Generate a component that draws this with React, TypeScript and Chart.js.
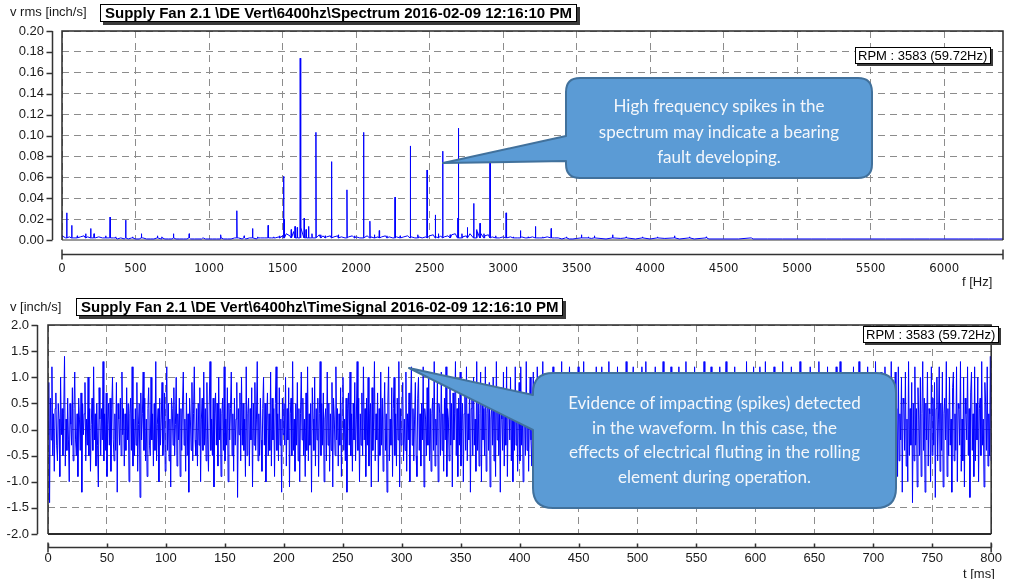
import React, { useEffect, useRef } from "react";
import { Chart, registerables } from "chart.js";

Chart.register(...registerables);

// ---------------- Spectrum (top panel) ----------------
const specXTicks = [0, 500, 1000, 1500, 2000, 2500, 3000, 3500, 4000, 4500, 5000, 5500, 6000];
const specYTicks = [0, 0.02, 0.04, 0.06, 0.08, 0.1, 0.12, 0.14, 0.16, 0.18, 0.2];

// discrete spectral lines [Hz] and their amplitudes [inch/s rms]
const specSpikeHz = [
  32, 66, 104, 161, 195, 218, 297, 327, 365, 433, 480, 540, 649, 680, 758, 865, 960, 1080, 1189, 1239,
  1296, 1330, 1402, 1440, 1480, 1507, 1512, 1559, 1585, 1600, 1620, 1647, 1660, 1677, 1700, 1727, 1760,
  1790, 1833, 1880, 1938, 1990, 2051, 2094, 2125, 2158, 2210, 2265, 2300, 2369, 2420, 2483, 2539, 2560,
  2589, 2640, 2691, 2696, 2720, 2757, 2800, 2820, 2843, 2870, 2911, 2950, 3020, 3070, 3118, 3170, 3220,
  3270, 3327, 3431, 3533, 3580, 3621, 3745, 3837, 3948, 4050, 4166, 4268, 4382, 4688,
];
const specSpikeAmp = [
  0.026, 0.014, 0.004, 0.006, 0.011, 0.006, 0.004, 0.022, 0.003, 0.019, 0.003, 0.006, 0.004, 0.003, 0.006,
  0.006, 0.002, 0.005, 0.028, 0.004, 0.011, 0.003, 0.014, 0.003, 0.004, 0.061, 0.02, 0.01, 0.013, 0.012,
  0.174, 0.021, 0.01, 0.013, 0.006, 0.103, 0.005, 0.004, 0.075, 0.005, 0.048, 0.004, 0.103, 0.018, 0.005,
  0.009, 0.004, 0.041, 0.004, 0.09, 0.005, 0.067, 0.024, 0.006, 0.085, 0.005, 0.021, 0.107, 0.006, 0.012,
  0.035, 0.01, 0.016, 0.006, 0.076, 0.004, 0.026, 0.003, 0.009, 0.003, 0.013, 0.003, 0.011, 0.003, 0.005,
  0.003, 0.004, 0.005, 0.003, 0.003, 0.003, 0.004, 0.003, 0.003, 0.002,
];
const SPIKE_BASE = 0.002;

// noise floor, 25 Hz bins from 0 Hz
const specFloorLow = [
  0.004, 0.002, 0.003, 0.002, 0.002, 0.003, 0.004, 0.003, 0.002, 0.002,
  0.003, 0.002, 0.001, 0.002, 0.002, 0.001, 0.002, 0.001, 0.001, 0.002,
  0.001, 0.001, 0.002, 0.001, 0.001, 0.001, 0.002, 0.001, 0.001, 0.001,
  0.001, 0.001, 0.001, 0.001, 0.001, 0.001, 0.001, 0.001, 0.001, 0.001,
  0.001, 0.001, 0.001, 0.001, 0.001, 0.001, 0.001, 0.002, 0.002, 0.001,
  0.001, 0.002, 0.002, 0.001, 0.002, 0.002, 0.003, 0.002, 0.002, 0.003,
];
// noise floor, 25 Hz bins from 1500 Hz
const specFloorMid = [
  0.004, 0.006, 0.004, 0.008, 0.01, 0.012, 0.009, 0.006, 0.005, 0.004,
  0.005, 0.004, 0.003, 0.004, 0.003, 0.004, 0.003, 0.002, 0.003, 0.004,
  0.003, 0.002, 0.003, 0.004, 0.003, 0.002, 0.003, 0.003, 0.004, 0.003,
  0.002, 0.003, 0.002, 0.003, 0.004, 0.003, 0.002, 0.003, 0.002, 0.003,
  0.004, 0.005, 0.003, 0.004, 0.003, 0.004, 0.005, 0.006, 0.004, 0.003,
  0.004, 0.006, 0.005, 0.008, 0.006, 0.004, 0.005, 0.003, 0.004, 0.002,
  0.003, 0.002, 0.003, 0.002, 0.002, 0.003, 0.002, 0.002, 0.003, 0.002,
  0.002, 0.002, 0.003, 0.002, 0.002, 0.002, 0.001, 0.002, 0.001, 0.001,
];
// noise floor, 100 Hz bins from 3500 Hz
const specFloorHigh = [
  0.0015, 0.0015, 0.001, 0.0015, 0.001, 0.001, 0.0015, 0.001, 0.001, 0.001,
  0.001, 0.001, 0.001, 0.001, 0.001, 0.001, 0.001, 0.001, 0.001, 0.001,
  0.001, 0.001, 0.001, 0.001, 0.001, 0.001, 0.001, 0.001, 0.001, 0.001,
];

// ---------------- Time signal (bottom panel) ----------------
const waveXTicks = [0, 50, 100, 150, 200, 250, 300, 350, 400, 450, 500, 550, 600, 650, 700, 750, 800];
const waveYTicks = [-2, -1.5, -1, -0.5, 0, 0.5, 1, 1.5, 2];
const WAVE_DURATION_MS = 800;

const wave0 = [
  -0.1, 0.9, -1.4, 0.6, -0.2, 1.2, -0.5, 0.3, -0.8, 0.4, 0.7, -0.3, -0.6, 0.5, 0.2, -0.9, 1.0, -0.1, 0.4, -0.5,
  0.3, 1.4, -0.7, 0.2, -0.4, 0.6, -0.2, -1.0, 0.5, 0.1, -0.3, 0.8, -0.6, 0.4, 1.1, -0.2, -0.5, 0.3, -0.9, 0.6,
  0.2, -0.4, 0.7, -1.2, 0.5, -0.1, 0.3, 0.9, -0.6, 0.2, -0.3, 1.0, -0.5, 0.4, -0.8, 0.1, 0.6, -0.4, 1.2, -0.2,
  0.3, -0.7, 0.5, -0.3, -1.1, 0.8, 0.2, -0.5, 0.4, -0.2, 1.3, -0.6, 0.3, -0.4, 0.7, -0.9, 0.1, 0.5, -0.3, 0.6,
  -0.8, 0.4, 1.0, -0.2, -0.6, 0.3, -0.4, 0.9, -1.2, 0.5, 0.2, -0.3, 0.6, -0.5, 1.1, -0.1, 0.4, -0.7, 0.3, -0.4,
];
const wave1 = [
  0.8, -0.2, 0.5, -1.0, 0.3, 0.6, -0.4, 1.2, -0.7, 0.2, -0.5, 0.4, -0.3, 0.9, -0.8, 0.1, 0.5, -1.3, 0.7, -0.2,
  0.3, 1.1, -0.4, 0.6, -0.6, 0.2, -0.9, 0.4, 0.8, -0.3, -0.5, 1.0, -0.2, 0.3, -0.7, 0.5, -0.4, 1.3, -0.6, 0.1,
  0.4, -1.0, 0.6, -0.3, 0.2, 0.9, -0.5, -0.2, 0.7, -0.8, 0.3, 1.2, -0.4, 0.5, -0.6, 0.2, -1.1, 0.6, 0.4, -0.3,
  0.8, -0.5, 0.1, 1.0, -0.7, 0.3, -0.2, 0.6, -0.9, 0.4, -0.4, 0.5, 1.1, -0.3, 0.2, -0.8, 0.7, -0.5, 0.3, -1.2,
  0.6, 0.2, -0.4, 0.9, -0.6, 0.3, 1.2, -0.2, -0.5, 0.4, -0.7, 0.5, -0.3, 0.8, -1.0, 0.2, 0.6, -0.4, 1.1, -0.3,
];
const wave2 = [
  0.4, -0.6, 0.9, -0.2, -0.8, 0.5, 1.3, -0.4, 0.2, -0.5, 0.6, -1.1, 0.3, 0.7, -0.3, 0.5, -0.7, 1.0, -0.2, 0.4,
  -0.9, 0.3, 0.6, -0.4, 1.2, -0.6, 0.2, -0.3, 0.8, -1.0, 0.5, -0.2, 0.4, 1.1, -0.5, 0.3, -0.8, 0.6, -0.3, 0.2,
  0.9, -1.3, 0.4, -0.1, 0.7, -0.6, 1.0, -0.3, 0.5, -0.4, 0.2, -0.9, 1.2, -0.5, 0.3, 0.6, -0.7, 0.4, -0.2, 0.8,
  -1.1, 0.5, -0.3, 0.9, -0.4, 0.2, 1.3, -0.6, 0.3, -0.5, 0.6, -0.2, -0.8, 0.4, 1.0, -0.3, 0.5, -1.0, 0.2, 0.7,
  -0.5, 0.3, -0.4, 1.1, -0.7, 0.6, -0.2, 0.4, -0.9, 0.5, 1.2, -0.4, 0.3, -0.6, 0.8, -0.3, 0.2, -1.2, 0.6, -0.1,
];
const wave3 = [
  0.5, -0.3, 1.0, -0.7, 0.4, -0.2, 0.8, -1.1, 0.3, 0.6, -0.5, 1.3, -0.4, 0.2, -0.8, 0.5, -0.3, 0.9, -0.6, 0.4,
  -1.0, 0.3, 1.1, -0.2, 0.6, -0.5, 0.2, -0.9, 0.7, -0.4, 1.2, -0.6, 0.3, -0.3, 0.5, -1.2, 0.8, 0.2, -0.4, 1.0,
  -0.7, 0.4, -0.2, 0.6, -0.9, 0.3, 1.3, -0.5, 0.5, -0.3, 0.7, -1.0, 0.2, 0.4, -0.6, 1.1, -0.3, 0.5, -0.8, 0.3,
  -0.4, 0.9, -1.1, 0.6, 0.2, -0.5, 1.2, -0.2, 0.4, -0.7, 0.3, -0.3, 0.8, -0.9, 0.5, 1.0, -0.4, 0.2, -0.6, 0.6,
  -1.2, 0.4, 0.7, -0.3, 1.1, -0.5, 0.3, -0.8, 0.5, -0.2, 0.9, -0.6, 0.2, 1.3, -0.4, 0.6, -1.0, 0.3, -0.3, 0.7,
];
const wave4 = [
  -0.5, 1.2, -0.2, 0.4, -0.9, 0.6, -0.3, 1.0, -0.7, 0.3, 0.5, -1.1, 0.8, -0.4, 0.2, 1.3, -0.6, 0.3, -0.2, 0.7,
  -1.0, 0.4, -0.5, 1.1, -0.3, 0.6, -0.8, 0.2, 0.9, -0.4, 0.3, -1.2, 0.5, 1.2, -0.6, 0.2, -0.3, 0.8, -0.9, 0.4,
  1.0, -0.5, 0.3, -0.7, 0.6, -0.2, 1.3, -1.1, 0.4, -0.3, 0.5, 0.9, -0.6, 0.2, -0.4, 1.1, -0.8, 0.3, -0.2, 0.7,
  -1.0, 0.5, 1.2, -0.3, 0.4, -0.6, 0.2, 0.9, -0.5, -0.9, 0.6, 1.0, -0.4, 0.3, -0.7, 0.5, -0.2, 1.2, -1.1, 0.4,
  0.2, -0.5, 0.8, -0.3, 1.1, -0.6, 0.4, -0.8, 0.3, 0.6, -0.4, 1.3, -0.7, 0.2, -0.3, 0.9, -1.0, 0.5, 0.3, -0.5,
];
const wave5 = [
  1.1, -0.4, 0.3, -0.8, 0.6, -0.2, 1.2, -0.9, 0.4, 0.2, -0.6, 1.0, -0.3, 0.5, -1.1, 0.7, -0.2, 0.3, 1.3, -0.5,
  0.4, -0.9, 0.6, -0.3, 1.1, -0.7, 0.2, 0.5, -1.0, 0.3, 0.8, -0.4, 1.2, -0.6, 0.3, -0.2, 0.9, -1.2, 0.4, 0.6,
  -0.5, 1.0, -0.3, 0.2, -0.8, 1.3, -0.4, 0.5, -0.7, 0.3, 1.1, -1.0, 0.6, -0.2, 0.4, -0.5, 1.2, -0.8, 0.3, 0.7,
  -0.4, 0.9, -1.1, 0.2, 0.5, -0.3, 1.0, -0.6, 0.4, -0.9, 1.3, -0.2, 0.6, -0.5, 0.3, -1.2, 0.8, 0.2, -0.4, 1.1,
  -0.7, 0.5, -0.3, 1.2, -0.9, 0.4, 0.6, -0.2, 1.0, -0.6, 0.3, -1.0, 0.7, -0.4, 1.2, -0.3, 0.5, -0.8, 0.2, 0.9,
];
const wave6 = [
  -0.6, 1.2, -0.3, 0.4, -1.0, 0.7, 0.2, -0.5, 1.3, -0.4, 0.6, -0.8, 0.3, 1.0, -0.2, -0.7, 0.5, 1.1, -1.1, 0.3,
  0.4, -0.6, 1.2, -0.3, 0.8, -0.9, 0.2, 0.5, -0.4, 1.3, -0.7, 0.4, -0.2, 0.9, -1.2, 0.6, 0.3, -0.5, 1.0, -0.3,
  0.5, -0.8, 1.2, -0.6, 0.2, 0.7, -1.0, 0.4, -0.3, 1.1, -0.5, 0.6, -0.2, 1.3, -0.9, 0.3, 0.5, -0.6, 1.0, -0.4,
  0.2, -1.1, 0.8, 1.2, -0.3, 0.4, -0.7, 0.6, -0.2, 1.1, -1.0, 0.3, 0.5, -0.4, 1.2, -0.6, 0.7, -0.8, 0.2, 0.9,
  -0.3, 1.3, -0.5, 0.4, -1.2, 0.6, 0.3, -0.2, 1.0, -0.7, 0.5, -0.4, 1.1, -0.9, 0.2, 0.6, -0.3, 1.2, -0.6, 0.4,
];
const wave7 = [
  -1.0, 0.8, 0.3, -0.4, 1.2, -0.6, 0.5, -0.2, 1.0, -0.9, 0.4, 0.6, -0.3, 1.3, -0.7, 0.2, -0.5, 1.1, -1.2, 0.5,
  0.3, -0.4, 0.9, -0.2, 1.2, -0.8, 0.6, -0.3, 0.4, -1.0, 1.1, -0.5, 0.2, 0.7, -0.6, 1.3, -0.3, 0.4, -0.9, 0.5,
  1.0, -0.2, -0.7, 0.6, 1.2, -1.1, 0.3, -0.4, 0.8, -0.5, 0.2, 1.1, -0.6, 0.4, -0.3, 1.2, -0.9, 0.5, 0.3, -0.4,
  1.3, -0.7, 0.2, -0.5, 0.9, -1.2, 0.6, 0.4, -0.2, 1.0, -0.8, 0.3, 1.2, -0.4, 0.5, -0.6, 0.2, 1.1, -1.0, 0.7,
  -0.3, 0.4, 1.3, -0.5, 0.3, -0.9, 0.6, -0.2, 1.0, -0.6, 0.4, -1.1, 1.2, -0.3, 0.5, -0.4, 0.8, -0.7, 0.2, 1.1,
];
const wave8 = [
  -0.5, 0.4, 1.2, -0.8, 0.3, -0.3, 1.0, -1.1, 0.6, 0.2, -0.4, 1.3, -0.6, 0.5, -0.2, 0.9, -1.0, 0.3, 1.1, -0.5,
  0.4, -0.7, 1.2, -0.3, 0.6, -0.9, 0.2, 1.0, -0.4, 0.5, -1.2, 0.7, 0.3, -0.2, 1.3, -0.6, 0.4, -0.8, 1.1, -0.3,
  0.5, -1.0, 0.6, 1.2, -0.4, 0.2, -0.5, 0.9, -0.9, 0.3, 1.1, -0.6, 0.4, -0.3, 1.2, -1.1, 0.5, 0.2, -0.7, 1.0,
  -0.4, 0.6, 1.3, -0.5, 0.3, -0.8, 0.7, -0.2, 1.1, -1.0, 0.4, 0.5, -0.3, 1.2, -0.6, 0.2, -0.9, 0.8, 1.0, -0.4,
  0.3, -1.2, 0.6, -0.2, 1.1, -0.5, 0.4, -0.7, 1.3, -0.3, 0.5, -0.9, 0.2, 1.0, -0.6, 0.7, -0.4, 1.2, -1.0, 0.3,
];
const wave9 = [
  0.6, -0.4, 1.1, -0.7, 0.3, 1.2, -0.5, 0.2, -1.0, 0.5, 0.8, -0.3, 1.3, -0.6, 0.4, -0.9, 0.6, -0.2, 1.0, -1.1,
  0.3, 0.5, -0.4, 1.2, -0.8, 0.2, -0.3, 0.9, -1.2, 0.6, 1.1, -0.5, 0.4, -0.2, 1.3, -0.7, 0.3, -1.0, 0.7, 0.5,
  -0.6, 1.0, -0.3, 0.4, -0.9, 1.2, -0.4, 0.2, -0.5, 0.8, -1.1, 0.6, 1.1, -0.2, 0.3, -0.7, 1.3, -0.6, 0.5, -0.3,
  0.4, -1.2, 0.9, 0.2, -0.4, 1.0, -0.8, 0.6, -0.2, 1.2, -0.5, 0.3, -1.0, 0.7, 0.5, -0.3, 1.1, -0.9, 0.4, -0.6,
  1.3, -0.2, 0.6, -1.1, 0.3, 0.8, -0.5, 1.0, -0.4, 0.2, -0.7, 1.2, -0.3, 0.5, -1.3, 0.6, 0.4, -0.2, 1.1, -0.8,
];
const wave10 = [
  0.3, -0.5, 1.2, -0.9, 0.6, 0.2, -0.4, 1.3, -1.1, 0.5, -0.3, 0.8, -0.6, 1.0, -0.2, 0.4, -1.2, 0.7, 0.3, -0.5,
  1.1, -0.8, 0.5, -0.3, 1.2, -0.6, 0.2, 0.6, -1.0, 0.4, -0.2, 1.3, -0.7, 0.5, -0.4, 0.9, -1.1, 0.3, 1.0, -0.5,
  0.6, -0.3, 1.2, -0.9, 0.2, 0.4, -0.6, 1.1, -1.2, 0.7, 0.3, -0.4, 1.3, -0.5, 0.6, -1.0, 0.2, 0.8, -0.3, 1.1,
  -0.7, 0.4, -1.3, 0.5, 1.2, -0.2, 0.3, -0.8, 1.0, -0.6, 0.5, -0.4, 1.3, -1.1, 0.2, 0.7, -0.5, 1.1, -0.3, 0.4,
  -0.9, 1.2, -0.6, 0.3, -0.2, 1.0, -1.2, 0.6, 0.5, -0.4, 1.1, -0.7, 0.2, -1.0, 1.3, -0.5, 0.4, -0.3, 0.9, -1.4,
];
const wave11 = [
  0.5, -0.6, 1.2, -0.3, 0.4, -1.1, 0.8, 0.2, -0.5, 1.0, -0.9, 0.3, 1.3, -0.4, 0.6, -1.2, 0.5, -0.2, 1.1, -0.7,
  0.4, 0.3, -1.0, 1.2, -0.5, 0.6, -0.3, 0.9, -1.3, 0.4, 1.0, -0.6, 0.2, 1.2, -0.8, 0.5, -0.4, 1.1, -1.1, 0.3,
  0.6, -0.2, 1.3, -0.9, 0.4, -0.5, 1.0, -0.3, 0.2, -1.2, 0.8, 1.1, -0.6, 0.3, -0.4, 1.2, -1.0, 0.5, 0.4, -0.3,
  1.3, -0.8, 0.2, -0.6, 1.0, -1.1, 0.6, 0.3, -0.2, 1.2, -0.5, 0.4, -1.3, 0.7, 1.1, -0.4, 0.3, -0.9, 1.2, -0.6,
  0.5, -0.2, 1.0, -1.0, 0.4, 0.6, -0.5, 1.3, -0.3, 0.2, -1.1, 0.9, 0.5, -0.4, 1.2, -0.7, 0.3, -0.5, 1.4, -0.6,
];

// ---------------- helpers ----------------
const SANS = "'Liberation Sans', Arial, sans-serif";
const NARROW = "'Liberation Sans Narrow', 'DejaVu Sans Condensed', 'Liberation Sans', sans-serif";
const CALLOUT_FONT = "Lato, 'Open Sans', sans-serif";

function buildSpectrum() {
  const pts: { x: number; y: number }[] = [];
  specFloorLow.forEach((v, i) => pts.push({ x: i * 25, y: v }));
  specFloorMid.forEach((v, i) => pts.push({ x: 1500 + i * 25, y: v }));
  specFloorHigh.forEach((v, i) => pts.push({ x: 3500 + i * 100, y: v }));
  const filtered = pts.filter((p) => !specSpikeHz.some((f) => Math.abs(f - p.x) < 5));
  const spikes: { x: number; y: number }[] = [];
  specSpikeHz.forEach((f, i) => {
    spikes.push({ x: f - 2, y: SPIKE_BASE }, { x: f, y: specSpikeAmp[i] }, { x: f + 2, y: SPIKE_BASE });
  });
  return filtered.concat(spikes).sort((a, b) => a.x - b.x);
}

function buildWave() {
  const all = [
    ...wave0, ...wave1, ...wave2, ...wave3, ...wave4, ...wave5,
    ...wave6, ...wave7, ...wave8, ...wave9, ...wave10, ...wave11,
  ];
  const dt = WAVE_DURATION_MS / (all.length - 1);
  return all.map((v, i) => ({ x: i * dt, y: v }));
}

function framePlugin(cfg: { yOff: number; xOff: number; bottomColor: string; innerTicks: boolean }) {
  return {
    id: "frameAxes",
    beforeDatasetsDraw(chart: any) {
      const { ctx, chartArea: a } = chart;
      ctx.save();
      ctx.strokeStyle = cfg.bottomColor;
      ctx.lineWidth = 2;
      ctx.beginPath();
      ctx.moveTo(a.left, a.bottom);
      ctx.lineTo(a.right, a.bottom);
      ctx.stroke();
      ctx.restore();
    },
    afterDatasetsDraw(chart: any) {
      const { ctx, chartArea: a, scales } = chart;
      const x = scales.x;
      const y = scales.y;
      ctx.save();
      ctx.strokeStyle = "#2b2b2b";
      ctx.lineWidth = 1.5;
      ctx.beginPath();
      ctx.moveTo(a.left, a.bottom);
      ctx.lineTo(a.left, a.top);
      ctx.lineTo(a.right, a.top);
      ctx.lineTo(a.right, a.bottom);
      ctx.stroke();
      ctx.strokeStyle = "#333";
      ctx.lineWidth = 1.5;
      const ax = Math.round(a.left - cfg.yOff) + 0.5;
      ctx.beginPath();
      ctx.moveTo(ax, y.getPixelForValue(y.max));
      ctx.lineTo(ax, y.getPixelForValue(y.min));
      y.ticks.forEach((t: any) => {
        const py = Math.round(y.getPixelForValue(t.value)) + 0.5;
        ctx.moveTo(ax - 6, py);
        ctx.lineTo(ax, py);
      });
      ctx.stroke();
      const ay = Math.round(a.bottom + cfg.xOff) + 0.5;
      const x0 = x.getPixelForValue(x.min);
      const x1 = x.getPixelForValue(x.max);
      ctx.beginPath();
      ctx.moveTo(x0, ay);
      ctx.lineTo(x1, ay);
      ctx.moveTo(x0, ay - 5);
      ctx.lineTo(x0, ay + 5);
      ctx.moveTo(x1, ay - 5);
      ctx.lineTo(x1, ay + 5);
      if (cfg.innerTicks) {
        x.ticks.forEach((t: any) => {
          const px = Math.round(x.getPixelForValue(t.value)) + 0.5;
          ctx.moveTo(px, ay - 4);
          ctx.lineTo(px, ay);
        });
      }
      ctx.stroke();
      ctx.restore();
    },
  };
}

function gridOpts() {
  return { color: "#8c8c8c", lineWidth: 1, drawTicks: false };
}

export default function App() {
  const specRef = useRef<HTMLCanvasElement>(null);
  const waveRef = useRef<HTMLCanvasElement>(null);

  useEffect(() => {
    document.body.style.margin = "0";
    const spec = new Chart(specRef.current as HTMLCanvasElement, {
      type: "line",
      data: {
        datasets: [
          { data: buildSpectrum(), borderColor: "#0000ff", borderWidth: 1, pointRadius: 0, tension: 0, fill: false },
        ],
      },
      options: {
        animation: false,
        responsive: false,
        events: [],
        layout: { padding: { left: 0, right: 16, top: 31, bottom: 0 } },
        plugins: { legend: { display: false }, tooltip: { enabled: false } },
        scales: {
          x: {
            type: "linear",
            min: 0,
            max: 6400,
            afterBuildTicks: (s: any) => {
              s.ticks = specXTicks.map((v) => ({ value: v }));
            },
            afterFit: (s: any) => {
              s.height = 50;
            },
            grid: gridOpts(),
            border: { display: false, dash: [7, 5] },
            ticks: {
              padding: 21,
              maxRotation: 0,
              autoSkip: false,
              color: "#1a1a1a",
              font: { family: NARROW, size: 13 },
              callback: (v: any) => String(v),
            },
          },
          y: {
            type: "linear",
            min: 0,
            max: 0.2,
            afterBuildTicks: (s: any) => {
              s.ticks = specYTicks.map((v) => ({ value: v }));
            },
            afterFit: (s: any) => {
              s.width = 62;
            },
            grid: gridOpts(),
            border: { display: false, dash: [7, 5] },
            ticks: {
              padding: 18,
              autoSkip: false,
              color: "#1a1a1a",
              font: { family: SANS, size: 13 },
              callback: (v: any) => Number(v).toFixed(2),
            },
          },
        },
      } as any,
      plugins: [framePlugin({ yOff: 10, xOff: 14, bottomColor: "#9a9a9a", innerTicks: false })],
    });

    const wave = new Chart(waveRef.current as HTMLCanvasElement, {
      type: "line",
      data: {
        datasets: [
          { data: buildWave(), borderColor: "#0000ff", borderWidth: 1, pointRadius: 0, tension: 0, fill: false },
        ],
      },
      options: {
        animation: false,
        responsive: false,
        events: [],
        layout: { padding: { left: 0, right: 11, top: 35, bottom: 0 } },
        plugins: { legend: { display: false }, tooltip: { enabled: false } },
        scales: {
          x: {
            type: "linear",
            min: 0,
            max: 800,
            afterBuildTicks: (s: any) => {
              s.ticks = waveXTicks.map((v) => ({ value: v }));
            },
            afterFit: (s: any) => {
              s.height = 45;
            },
            grid: gridOpts(),
            border: { display: false, dash: [7, 5] },
            ticks: {
              padding: 17,
              maxRotation: 0,
              autoSkip: false,
              color: "#1a1a1a",
              font: { family: SANS, size: 13 },
              callback: (v: any) => String(v),
            },
          },
          y: {
            type: "linear",
            min: -2,
            max: 2,
            afterBuildTicks: (s: any) => {
              s.ticks = waveYTicks.map((v) => ({ value: v }));
            },
            afterFit: (s: any) => {
              s.width = 48;
            },
            grid: gridOpts(),
            border: { display: false, dash: [7, 5] },
            ticks: {
              padding: 19,
              autoSkip: false,
              color: "#1a1a1a",
              font: { family: SANS, size: 13 },
              callback: (v: any) => Number(v).toFixed(1),
            },
          },
        },
      } as any,
      plugins: [framePlugin({ yOff: 11, xOff: 13, bottomColor: "#2b2b2b", innerTicks: true })],
    });

    return () => {
      spec.destroy();
      wave.destroy();
    };
  }, []);

  const abs = (left: number, top: number): React.CSSProperties => ({
    position: "absolute",
    left,
    top,
    whiteSpace: "nowrap",
  });
  const axisTitle: React.CSSProperties = { fontFamily: SANS, fontSize: 13, color: "#1a1a1a", lineHeight: "15px" };
  const titleBox: React.CSSProperties = {
    fontFamily: SANS,
    fontSize: 15,
    fontWeight: "bold",
    color: "#000",
    background: "#fff",
    border: "1px solid #000",
    boxShadow: "3px 3px 0 #3a3a3a",
    padding: "0 4px",
    lineHeight: "16px",
  };
  const rpmBox: React.CSSProperties = {
    fontFamily: SANS,
    fontSize: 13,
    color: "#000",
    background: "#fff",
    border: "1px solid #000",
    boxShadow: "2px 2px 0 #3a3a3a",
    padding: "0 3px 0 2px",
    lineHeight: "15px",
  };
  const calloutText: React.CSSProperties = {
    position: "absolute",
    fontFamily: CALLOUT_FONT,
    fontSize: 17,
    color: "#f4f7fb",
    textAlign: "center",
    whiteSpace: "nowrap",
  };

  return (
    <div style={{ position: "relative", width: 1019, height: 579, overflow: "hidden", background: "#fff" }}>
      <canvas ref={specRef} width={1019} height={290} style={{ position: "absolute", left: 0, top: 0, display: "block" }} />
      <canvas ref={waveRef} width={1019} height={289} style={{ position: "absolute", left: 0, top: 290, display: "block" }} />

      <div style={{ ...abs(10, 4), ...axisTitle }}>v rms [inch/s]</div>
      <div style={{ ...abs(100, 4), ...titleBox }}>Supply Fan 2.1 \DE Vert\6400hz\Spectrum 2016-02-09 12:16:10 PM</div>
      <div style={{ ...abs(855, 47), ...rpmBox }}>RPM : 3583 (59.72Hz)</div>
      <div style={{ ...abs(962, 274), ...axisTitle }}>f [Hz]</div>

      <div style={{ ...abs(10, 299), ...axisTitle }}>v [inch/s]</div>
      <div style={{ ...abs(76, 298), ...titleBox }}>Supply Fan 2.1 \DE Vert\6400hz\TimeSignal 2016-02-09 12:16:10 PM</div>
      <div style={{ ...abs(863, 326), ...rpmBox }}>RPM : 3583 (59.72Hz)</div>
      <div style={{ ...abs(963, 566), ...axisTitle }}>t [ms]</div>

      <svg width={1019} height={579} style={{ position: "absolute", left: 0, top: 0 }}>
        <path
          d="M 580 78 H 858 Q 872 78 872 92 V 164 Q 872 178 858 178 H 580 Q 566 178 566 164 V 161 L 443 163 L 566 136 V 92 Q 566 78 580 78 Z"
          fill="#5b9bd5"
          stroke="#41719c"
          strokeWidth={2}
          strokeLinejoin="round"
        />
        <path
          d="M 553 373 H 876 Q 896 373 896 393 V 488 Q 896 508 876 508 H 553 Q 533 508 533 488 V 430 L 409 368 L 533 395 V 393 Q 533 373 553 373 Z"
          fill="#5b9bd5"
          stroke="#41719c"
          strokeWidth={2}
          strokeLinejoin="round"
        />
      </svg>
      <div style={{ ...calloutText, left: 566, width: 306, top: 93, lineHeight: "25.5px" }}>
        High frequency spikes in the
        <br />
        spectrum may indicate a bearing
        <br />
        fault developing.
      </div>
      <div style={{ ...calloutText, left: 533, width: 363, top: 391, lineHeight: "24.7px" }}>
        Evidence of impacting (spikes) detected
        <br />
        in the waveform. In this case, the
        <br />
        effects of electrical fluting in the rolling
        <br />
        element during operation.
      </div>
    </div>
  );
}
